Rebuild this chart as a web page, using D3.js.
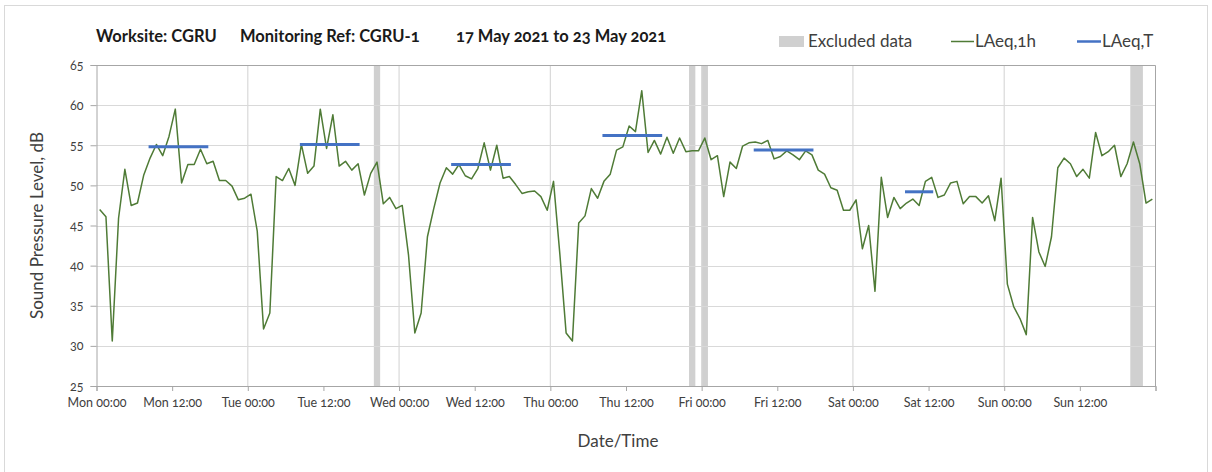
<!DOCTYPE html>
<html>
<head>
<meta charset="utf-8">
<script src="https://cdn.jsdelivr.net/npm/d3@7"></script>
<style>
  body { margin: 0; background: #fff; }
  svg { font-family: Lato, 'Open Sans', sans-serif; font-feature-settings: 'onum'; }
</style>
</head>
<body>
<svg id="chart" width="1212" height="472"></svg>
<script>
const startDate = new Date(2021, 4, 17, 0, 0);
const endDate = new Date(2021, 4, 24, 0, 0);

// hourly LAeq,1h values from Mon 00:00, one per hour
const laeq1h = [
  47.0, 46.1, 30.6, 45.9, 52.0, 47.5, 47.8, 51.3, 53.4, 55.1,
  53.7, 56.1, 59.5, 50.3, 52.6, 52.6, 54.5, 52.7, 53.0, 50.6,
  50.6, 49.9, 48.2, 48.4, 48.9, 44.3, 32.1, 34.1, 51.1, 50.6,
  52.1, 50.0, 55.1, 51.5, 52.4, 59.5, 54.6, 58.8, 52.4, 53.0,
  51.9, 52.7, 48.8, 51.5, 52.9, 47.7, 48.5, 47.1, 47.5, 41.3,
  31.6, 34.1, 43.6, 47.1, 50.3, 52.2, 51.4, 52.6, 51.2, 50.8,
  52.1, 55.3, 51.9, 55.0, 50.9, 51.1, 50.1, 49.0, 49.2, 49.3,
  48.6, 46.9, 50.5, 41.5, 31.6, 30.6, 45.3, 46.2, 49.6, 48.4,
  50.5, 51.4, 54.4, 54.8, 57.4, 56.7, 61.8, 54.1, 55.6, 53.9,
  56.0, 54.0, 55.9, 54.2, 54.3, 54.3, 55.9, 53.2, 53.7, 48.6,
  52.9, 52.1, 54.9, 55.3, 55.4, 55.2, 55.6, 53.3, 53.6, 54.3,
  53.8, 53.2, 54.3, 53.8, 51.9, 51.4, 49.7, 49.4, 46.9, 46.9,
  48.2, 42.1, 45.0, 36.8, 51.0, 46.0, 48.5, 47.1, 47.8, 48.3,
  47.5, 50.5, 51.0, 48.5, 48.8, 50.3, 50.5, 47.7, 48.6, 48.6,
  47.8, 48.7, 45.6, 50.9, 37.7, 34.9, 33.4, 31.4, 46.0, 41.7,
  39.9, 43.6, 52.2, 53.4, 52.7, 51.1, 52.0, 50.9, 56.6, 53.7,
  54.2, 55.0, 51.1, 52.7, 55.4, 52.7, 47.8, 48.3];

// LAeq,T periods: [start hour, end hour, level]
const laeqT = [
  [8, 18, 54.8],
  [32, 42, 55.1],
  [56, 66, 52.6],
  [80, 90, 56.2],
  [104, 114, 54.4],
  [128, 133, 49.2]];

// excluded periods: [start hour, end hour]
const excluded = [[44, 45], [94, 95], [96, 97], [164, 166]];

const yTicks = [25, 30, 35, 40, 45, 50, 55, 60, 65];

const svg = d3.select('#chart');
const m = { l: 96.5, r: 1155.5, t: 65, b: 386 };

const hour = h => d3.timeMinute.offset(startDate, h * 60);

const x = d3.scaleTime().domain([startDate, endDate]).range([m.l, m.r]);
const y = d3.scaleLinear().domain([25, 65]).range([m.b, m.t]);

// outer frame
svg.append('rect')
  .attr('x', 4.5).attr('y', 5.5)
  .attr('width', 1203).attr('height', 470)
  .attr('fill', 'none')
  .attr('stroke', '#d9d9d9');

// excluded bars
svg.selectAll('rect.excl')
  .data(excluded)
  .enter()
  .append('rect')
  .attr('class', 'excl')
  .attr('x', d => x(hour(d[0])))
  .attr('y', m.t)
  .attr('width', d => x(hour(d[1])) - x(hour(d[0])))
  .attr('height', m.b - m.t)
  .attr('fill', '#d0d0d0');

// grid
svg.selectAll('line.hgrid')
  .data(yTicks.slice(1))
  .enter()
  .append('line')
  .attr('x1', m.l).attr('x2', m.r)
  .attr('y1', d => Math.round(y(d)) + 0.5)
  .attr('y2', d => Math.round(y(d)) + 0.5)
  .attr('stroke', '#d9d9d9')
  .attr('stroke-width', 1.2);

svg.selectAll('line.vgrid')
  .data(d3.timeDay.range(d3.timeDay.offset(startDate, 1), endDate))
  .enter()
  .append('line')
  .attr('x1', d => x(d)).attr('x2', d => x(d))
  .attr('y1', m.t).attr('y2', m.b)
  .attr('stroke', '#d9d9d9')
  .attr('stroke-width', 1.2);

// plot frame top/right
svg.append('path')
  .attr('d', `M${m.l},${m.t + 0.5}H${m.r}V${m.b}`)
  .attr('fill', 'none')
  .attr('stroke', '#a6a6a6');

// axes
const xAxis = d3.axisBottom(x)
  .tickValues(d3.timeHour.every(12).range(startDate, d3.timeHour.offset(endDate, 1)))
  .tickFormat(d => (d < endDate ? d3.timeFormat('%a %H:%M')(d) : ''))
  .tickSize(5)
  .tickPadding(7);

const gx = svg.append('g')
  .attr('transform', `translate(0,${m.b})`)
  .call(xAxis);

const yAxis = d3.axisLeft(y)
  .tickValues(yTicks)
  .tickSize(6)
  .tickPadding(7);

const gy = svg.append('g')
  .attr('transform', `translate(${m.l},0)`)
  .call(yAxis);

[gx, gy].forEach((g) => {
  g.select('.domain').attr('stroke', '#a6a6a6');
  g.selectAll('.tick line').attr('stroke', '#a6a6a6');
  g.selectAll('.tick text')
    .attr('fill', '#404040')
    .style('font-size', '12.5px')
    .style('font-family', 'Lato, sans-serif');
});

// LAeq,1h line
const line = d3.line()
  .x((d, i) => x(hour(i + 0.5)))
  .y(d => y(d));

svg.append('path')
  .datum(laeq1h)
  .attr('d', line)
  .attr('fill', 'none')
  .attr('stroke', '#4f7b36')
  .attr('stroke-width', 1.5)
  .attr('stroke-linejoin', 'round');

// LAeq,T segments
svg.selectAll('line.laeqT')
  .data(laeqT)
  .enter()
  .append('line')
  .attr('x1', d => x(hour(d[0] + 0.5)) - 1.5)
  .attr('x2', d => x(hour(d[1] - 0.5)) + 1.5)
  .attr('y1', d => y(d[2]))
  .attr('y2', d => y(d[2]))
  .attr('stroke', '#4472c4')
  .attr('stroke-width', 3);

// titles
const title = [
  ['Worksite: CGRU', 96],
  ['Monitoring Ref: CGRU-1', 240],
  ['17 May 2021 to 23 May 2021', 456]];

svg.selectAll('text.title')
  .data(title)
  .enter()
  .append('text')
  .attr('x', d => d[1])
  .attr('y', 42)
  .text(d => d[0])
  .attr('fill', '#1a1a1a')
  .style('font-size', '16.5px')
  .style('font-weight', 'bold');

// legend
const lg = svg.append('g').style('font-size', '17px').attr('fill', '#404040');
lg.append('rect').attr('x', 779).attr('y', 36).attr('width', 25).attr('height', 11).attr('fill', '#d0d0d0');
lg.append('text').attr('x', 808).attr('y', 47).text('Excluded data');
lg.append('line').attr('x1', 951).attr('x2', 974).attr('y1', 41.5).attr('y2', 41.5)
  .attr('stroke', '#4f7b36').attr('stroke-width', 1.5);
lg.append('text').attr('x', 975).attr('y', 47).text('LAeq,1h');
lg.append('line').attr('x1', 1077).attr('x2', 1101).attr('y1', 41.5).attr('y2', 41.5)
  .attr('stroke', '#4472c4').attr('stroke-width', 2.5);
lg.append('text').attr('x', 1102).attr('y', 47).text('LAeq,T');

// axis titles
svg.append('text')
  .attr('transform', `translate(43,${(m.t + m.b) / 2}) rotate(-90)`)
  .attr('text-anchor', 'middle')
  .attr('fill', '#404040')
  .style('font-size', '17px')
  .text('Sound Pressure Level, dB');

svg.append('text')
  .attr('x', 618)
  .attr('y', 447)
  .attr('text-anchor', 'middle')
  .attr('fill', '#404040')
  .style('font-size', '17px')
  .text('Date/Time');
</script>
</body>
</html>
